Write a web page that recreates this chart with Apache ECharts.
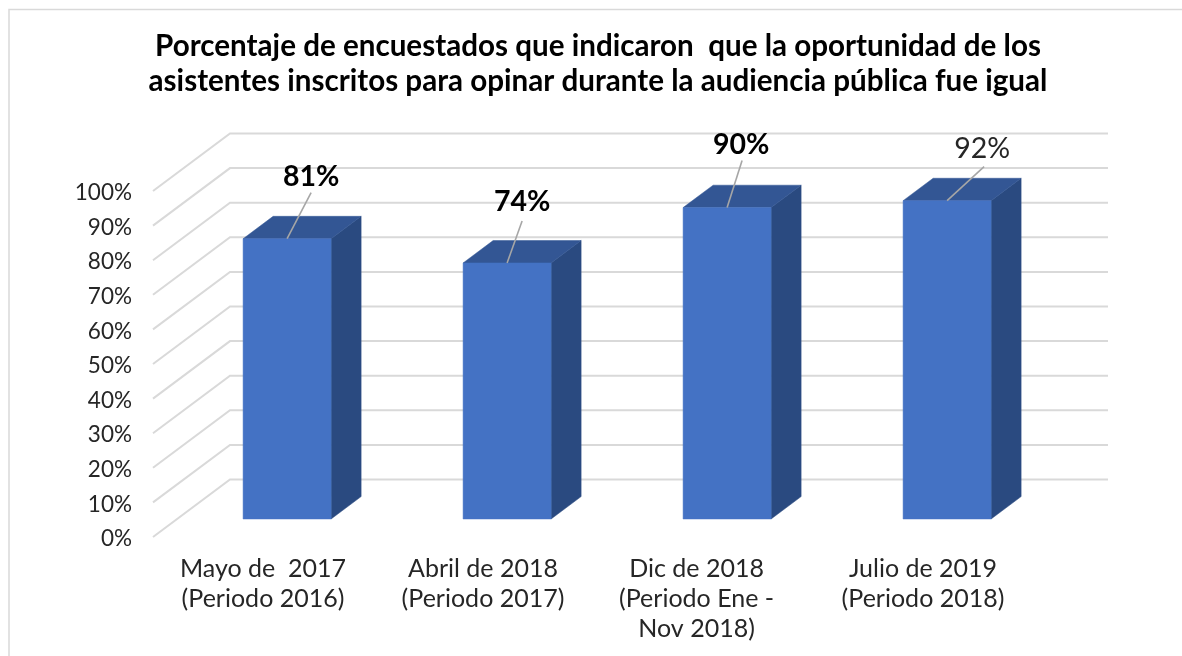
<!DOCTYPE html>
<html>
<head>
<meta charset="utf-8">
<title>Audiencia pública</title>
<script src="https://cdn.jsdelivr.net/npm/echarts@6/dist/echarts.min.js"></script>
<style>
  html, body { margin: 0; padding: 0; background: #fff; }
  #chart { width: 1182px; height: 656px; }
</style>
</head>
<body>
<div id="chart"></div>
<script>
const titleText = 'Porcentaje de encuestados que indicaron  que la oportunidad de los\nasistentes inscritos para opinar durante la audiencia pública fue igual'
const categories = [
  'Mayo de  2017\n(Periodo 2016)',
  'Abril de 2018\n(Periodo 2017)',
  'Dic de 2018  \n(Periodo Ene -  \nNov 2018)  ',
  'Julio de 2019\n(Periodo 2018)'
]
const values = [81, 74, 90, 92]
const boldLabels = [true, true, true, false]
const yTicks = [0, 10, 20, 30, 40, 50, 60, 70, 80, 90, 100]

// Leader line end and label centre, relative to the middle of the bar's top edge
const leaderEnds = [[24, -46], [15, -42], [15, -47], [37, -34]]
const labelCentres = [[24, -62], [15, -61], [14, -63], [35, -52]]

const FONT = 'Lato'
// Offset of the back wall from the front plane, in pixels
const DEPTH_X = 77
const DEPTH_Y = -57.5
const BAR_FRONT = 0.313
const BAR_BACK = 0.703

const shift = (p, d) => [p[0] + DEPTH_X * d, p[1] + DEPTH_Y * d]

const chart = echarts.init(document.getElementById('chart'))

const renderWall = (params, api) => {
  const cs = params.coordSys
  const y = api.coord([0, api.value(0)])[1]
  const front = [cs.x, y]
  const back = shift(front, 1)
  return {
    type: 'polyline',
    shape: { points: [front, back, [cs.x + cs.width + DEPTH_X - 2, back[1]]] },
    style: { stroke: '#d9d9d9', lineWidth: 2, fill: null },
    silent: true
  }
}

const renderBar = (params, api) => {
  const width = api.size([1, 0])[0] * 0.4
  const top = api.coord([api.value(0), api.value(1)])
  const base = api.coord([api.value(0), 0])
  const tl = shift([top[0] - width / 2, top[1]], BAR_FRONT)
  const tr = shift([top[0] + width / 2, top[1]], BAR_FRONT)
  const br = shift([base[0] + width / 2, base[1]], BAR_FRONT)
  const bl = shift([base[0] - width / 2, base[1]], BAR_FRONT)
  const d = BAR_BACK - BAR_FRONT
  const poly = (points, fill) => ({
    type: 'polygon',
    shape: { points: points },
    style: { fill: fill, stroke: fill, lineWidth: 0.5 }
  })
  return {
    type: 'group',
    children: [
      poly([tr, shift(tr, d), shift(br, d), br], '#2a4a80'),
      poly([tl, shift(tl, d), shift(tr, d), tr], '#335694'),
      poly([tl, tr, br, bl], '#4472c4')
    ]
  }
}

const renderLabel = (params, api) => {
  const i = params.dataIndex
  const top = shift(api.coord([api.value(0), api.value(1)]), BAR_FRONT)
  const end = leaderEnds[i]
  const centre = labelCentres[i]
  return {
    type: 'group',
    children: [
      {
        type: 'line',
        shape: { x1: top[0], y1: top[1], x2: top[0] + end[0], y2: top[1] + end[1] },
        style: { stroke: '#a6a6a6', lineWidth: 1.6 }
      },
      {
        type: 'text',
        x: top[0] + centre[0],
        y: top[1] + centre[1],
        style: {
          text: api.value(1) + '%',
          fontFamily: FONT,
          fontSize: 28.5,
          fontWeight: boldLabels[i] ? 'bold' : 'normal',
          fill: boldLabels[i] ? '#000' : '#262626',
          align: 'center',
          verticalAlign: 'middle'
        }
      }
    ]
  }
}

chart.setOption({
  animation: false,
  backgroundColor: '#fff',
  title: {
    text: titleText,
    left: 593,
    top: 24,
    textAlign: 'center',
    textStyle: {
      fontFamily: FONT,
      fontSize: 29.6,
      fontWeight: 'bold',
      color: '#000',
      lineHeight: 35
    }
  },
  graphic: [
    {
      type: 'polyline',
      shape: { points: [[9, 656], [9, 9.5], [1182, 9.5]] },
      style: { stroke: '#d9d9d9', lineWidth: 1.5, fill: null },
      silent: true
    }
  ],
  grid: { left: 153, top: 191, width: 880, height: 346 },
  xAxis: {
    type: 'category',
    data: categories,
    axisLine: { show: false },
    axisTick: { show: false },
    axisLabel: {
      interval: 0,
      margin: 17,
      fontFamily: FONT,
      fontSize: 25,
      lineHeight: 30,
      color: '#262626'
    }
  },
  yAxis: {
    type: 'value',
    min: 0,
    max: 100,
    interval: 10,
    axisLine: { show: false },
    axisTick: { show: false },
    splitLine: { show: false },
    axisLabel: {
      margin: 21,
      formatter: '{tick|{value}%}',
      rich: {
        tick: {
          padding: [4, 0, 0, 0],
          fontFamily: FONT,
          fontSize: 22.5,
          color: '#262626'
        }
      }
    }
  },
  series: [
    {
      type: 'custom',
      renderItem: renderWall,
      data: yTicks.map(v => [v]),
      encode: { y: 0 },
      z: 1,
      silent: true
    },
    {
      type: 'custom',
      renderItem: renderBar,
      data: values.map((v, i) => [i, v]),
      encode: { x: 0, y: 1 },
      z: 2
    },
    {
      type: 'custom',
      renderItem: renderLabel,
      data: values.map((v, i) => [i, v]),
      encode: { x: 0, y: 1 },
      z: 3
    }
  ]
})
</script>
</body>
</html>
